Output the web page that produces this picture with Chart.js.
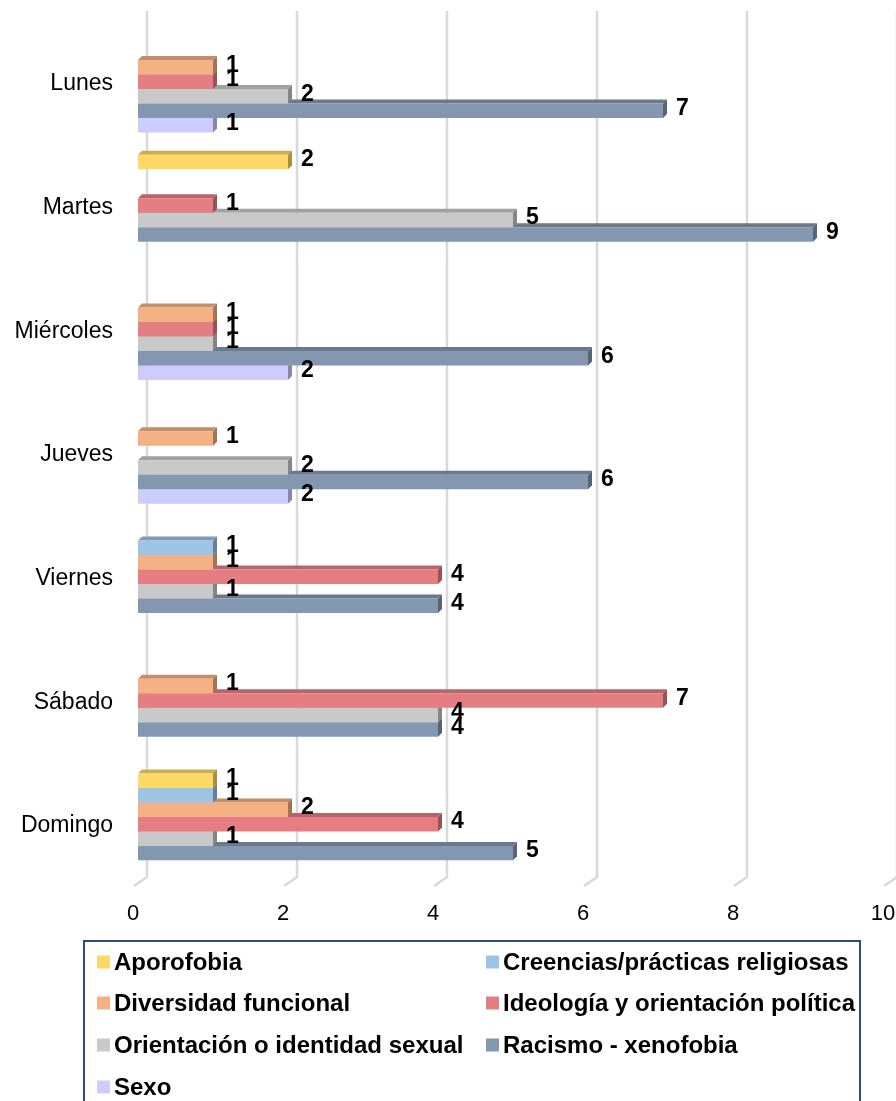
<!DOCTYPE html>
<html>
<head>
<meta charset="utf-8">
<script src="https://cdn.jsdelivr.net/npm/chart.js@4.4.1/dist/chart.umd.min.js"></script>
<style>
  body { margin: 0; background: #fff; }
  canvas { display: block; }
</style>
</head>
<body>
<canvas id="chart" width="896" height="1101"></canvas>
<script>
const days = ['Lunes', 'Martes', 'Miércoles', 'Jueves', 'Viernes', 'Sábado', 'Domingo'];
const xTicks = [0, 2, 4, 6, 8, 10];

const aporofobia = [0, 2, 0, 0, 0, 0, 1];
const creencias = [0, 0, 0, 0, 1, 0, 1];
const diversidad = [1, 0, 1, 1, 1, 1, 2];
const ideologia = [1, 1, 1, 0, 4, 7, 4];
const orientacion = [2, 5, 1, 2, 1, 4, 1];
const racismo = [7, 9, 6, 6, 4, 4, 5];
const sexo = [1, 0, 2, 2, 0, 0, 0];

const series = [
  { label: 'Aporofobia', values: aporofobia, color: '#FFD966' },
  { label: 'Creencias/prácticas religiosas', values: creencias, color: '#9DC3E6' },
  { label: 'Diversidad funcional', values: diversidad, color: '#F4B183' },
  { label: 'Ideología y orientación política', values: ideologia, color: '#E57E83' },
  { label: 'Orientación o identidad sexual', values: orientacion, color: '#C9C9C9' },
  { label: 'Racismo - xenofobia', values: racismo, color: '#8497B0' },
  { label: 'Sexo', values: sexo, color: '#CCCCFF' }
];

function shade(hex, f) {
  const n = parseInt(hex.slice(1), 16);
  const r = Math.round(((n >> 16) & 255) * f);
  const g = Math.round(((n >> 8) & 255) * f);
  const b = Math.round((n & 255) * f);
  return 'rgb(' + r + ',' + g + ',' + b + ')';
}

const DEPTH = 4;
const FONT = '"Liberation Sans", Arial, sans-serif';

const deco = {
  id: 'deco',
  beforeDatasetsDraw(chart) {
    const ctx = chart.ctx;
    const xs = chart.scales.x, ys = chart.scales.y;
    const area = chart.chartArea;
    ctx.save();
    // back-plane gridlines with the little floor bend
    ctx.strokeStyle = '#D9D9D9';
    ctx.lineWidth = 2.5;
    xTicks.forEach(v => {
      const px = xs.getPixelForValue(v);
      ctx.beginPath();
      ctx.moveTo(px + 9, area.top - 9);
      ctx.lineTo(px + 9, area.bottom - 9);
      ctx.lineTo(px - 4, area.bottom);
      ctx.stroke();
    });
    // tick labels
    ctx.fillStyle = '#000';
    ctx.font = '22px ' + FONT;
    ctx.textAlign = 'center';
    ctx.textBaseline = 'middle';
    xTicks.forEach(v => {
      ctx.fillText(String(v), xs.getPixelForValue(v) - 5, area.bottom + 28);
    });
    // category labels
    ctx.font = '23px ' + FONT;
    ctx.textAlign = 'right';
    days.forEach((d, i) => {
      ctx.fillText(d, 113, ys.getPixelForValue(i) + 2);
    });
    ctx.restore();
  },
  beforeDatasetDraw(chart, args) {
    const ctx = chart.ctx;
    const color = series[args.index].color;
    ctx.save();
    args.meta.data.forEach((el, i) => {
      const raw = chart.data.datasets[args.index].data[i];
      if (raw === null) return;
      const p = el.getProps(['x', 'y', 'base', 'height'], true);
      const top = p.y - p.height / 2, bot = p.y + p.height / 2;
      // top face
      ctx.fillStyle = shade(color, 0.8);
      ctx.beginPath();
      ctx.moveTo(p.base, top);
      ctx.lineTo(p.x, top);
      ctx.lineTo(p.x + DEPTH, top - DEPTH);
      ctx.lineTo(p.base + DEPTH, top - DEPTH);
      ctx.closePath();
      ctx.fill();
      // side face
      ctx.fillStyle = shade(color, 0.66);
      ctx.beginPath();
      ctx.moveTo(p.x, top);
      ctx.lineTo(p.x + DEPTH, top - DEPTH);
      ctx.lineTo(p.x + DEPTH, bot - DEPTH);
      ctx.lineTo(p.x, bot);
      ctx.closePath();
      ctx.fill();
    });
    ctx.restore();
  },
  afterDatasetsDraw(chart) {
    const ctx = chart.ctx;
    ctx.save();
    ctx.fillStyle = '#000';
    ctx.font = 'bold 23px ' + FONT;
    ctx.textAlign = 'left';
    ctx.textBaseline = 'middle';
    chart.data.datasets.forEach((ds, di) => {
      chart.getDatasetMeta(di).data.forEach((el, i) => {
        if (ds.data[i] === null) return;
        const p = el.getProps(['x', 'y'], true);
        ctx.fillText(String(ds.data[i]), p.x + 13, p.y - 2);
      });
    });
    ctx.restore();
  },
  afterDraw(chart) {
    const ctx = chart.ctx;
    ctx.save();
    // legend frame
    ctx.strokeStyle = '#2F4B7C';
    ctx.lineWidth = 2;
    ctx.strokeRect(84, 941, 776, 200);
    ctx.font = 'bold 24px ' + FONT;
    ctx.textBaseline = 'middle';
    ctx.textAlign = 'left';
    const cols = [97, 486];
    const rows = [962, 1003, 1045, 1087];
    series.forEach((s, i) => {
      const cx = cols[i % 2], cy = rows[Math.floor(i / 2)];
      ctx.fillStyle = s.color;
      ctx.fillRect(cx, cy - 6.5, 13, 13);
      ctx.fillStyle = '#000';
      ctx.fillText(s.label, cx + 17, cy + 1);
    });
    ctx.restore();
  }
};

new Chart(document.getElementById('chart').getContext('2d'), {
  type: 'bar',
  data: {
    labels: days,
    datasets: series.map(s => ({
      label: s.label,
      data: s.values.map(v => (v === 0 ? null : v)),
      backgroundColor: s.color,
      borderWidth: 0,
      categoryPercentage: 0.82,
      barPercentage: 1
    }))
  },
  options: {
    indexAxis: 'y',
    responsive: false,
    animation: false,
    layout: { padding: { left: 0, right: 8, top: 20, bottom: 215 } },
    scales: {
      x: {
        min: 0,
        max: 10,
        ticks: { display: false },
        grid: { display: false },
        border: { display: false },
        afterFit: s => { s.height = 0; }
      },
      y: {
        ticks: { display: false },
        grid: { display: false },
        border: { display: false },
        afterFit: s => { s.width = 138; }
      }
    },
    plugins: {
      legend: { display: false },
      title: { display: false },
      tooltip: { enabled: false }
    }
  },
  plugins: [deco]
});
</script>
</body>
</html>
